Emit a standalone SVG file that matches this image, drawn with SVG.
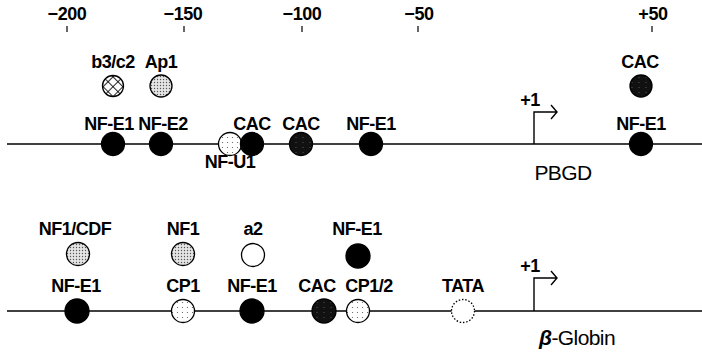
<svg xmlns="http://www.w3.org/2000/svg" width="702" height="352" viewBox="0 0 702 352">
<defs>
<pattern id="dense" width="3" height="3" patternUnits="userSpaceOnUse"><rect width="3" height="3" fill="#e4e4e4"/><circle cx="1.5" cy="1.5" r="0.7" fill="#555"/></pattern>
<pattern id="sparse" width="5" height="5" patternUnits="userSpaceOnUse"><rect width="5" height="5" fill="#fff"/><circle cx="2.5" cy="2.5" r="0.6" fill="#555"/></pattern>
<pattern id="hatch" width="7" height="7" patternUnits="userSpaceOnUse" patternTransform="translate(113 86) rotate(45)"><rect width="7" height="7" fill="#fff"/><line x1="0" y1="0" x2="7" y2="0" stroke="#000" stroke-width="1.7"/><line x1="0" y1="0" x2="0" y2="7" stroke="#000" stroke-width="1.7"/></pattern>
<pattern id="dark" width="7" height="5" patternUnits="userSpaceOnUse"><rect width="7" height="5" fill="#111"/><line x1="1" y1="2.5" x2="3" y2="2.5" stroke="#555" stroke-width="0.5"/></pattern>
</defs>
<style>
text{font-family:"Liberation Sans",Arial,sans-serif;font-weight:bold;font-size:18px;fill:#000;text-anchor:middle;letter-spacing:-0.5px}
.ax{font-size:18px;letter-spacing:-0.4px}
.gene{font-weight:normal;font-size:21px;letter-spacing:-0.6px}
.c{stroke:#000;stroke-width:1.3}
.black{fill:#000}
.dark{fill:url(#dark)}
.dense{fill:url(#dense)}
.sparse{fill:url(#sparse)}
.hatch{fill:url(#hatch)}
.open{fill:#fff}
.tata{fill:#fff;stroke-dasharray:1.5 1.8}
.ln{stroke:#000;stroke-width:1.4;fill:none}
.tk{stroke:#000;stroke-width:1.2}
</style>
<rect width="702" height="352" fill="#fff"/>
<g id="axis">
<text class="ax" x="67" y="20">−200</text>
<text class="ax" x="183" y="20">−150</text>
<text class="ax" x="302" y="20">−100</text>
<text class="ax" x="419" y="20">−50</text>
<text class="ax" x="653" y="20">+50</text>
<line class="tk" x1="67" y1="26" x2="67" y2="32"/>
<line class="tk" x1="184" y1="26" x2="184" y2="32"/>
<line class="tk" x1="302" y1="26" x2="302" y2="32"/>
<line class="tk" x1="418" y1="26" x2="418" y2="32"/>
<line class="tk" x1="652" y1="26" x2="652" y2="32"/>
</g>
<g id="connectors">
<line class="ln" x1="7" y1="144" x2="702" y2="144"/>
<path class="ln" d="M534 144V112H557M551 105L557 112L551 119"/>
<line class="ln" x1="7" y1="311" x2="702" y2="311"/>
<path class="ln" d="M534 311V278H557M551 271L557 278L551 285"/>
</g>
<g id="pbgd-labels">
<text x="530" y="106">+1</text>
<text class="gene" x="563" y="180">PBGD</text>
</g>
<g id="b3c2"><text x="113" y="68">b3/c2</text><circle class="c hatch" cx="113" cy="86" r="10.5"/></g>
<g id="ap1"><text x="161" y="68">Ap1</text><circle class="c dense" cx="161" cy="86" r="11"/></g>
<g id="cac-top"><text x="640" y="68">CAC</text><circle class="c dark" cx="641" cy="86" r="11"/></g>
<g id="nfe1-a"><text x="109" y="130">NF-E1</text><circle class="c black" cx="113" cy="144" r="11.5"/></g>
<g id="nfe2"><text x="163" y="130">NF-E2</text><circle class="c black" cx="161" cy="144" r="11.5"/></g>
<g id="nfu1"><text x="230" y="168">NF-U1</text><circle class="c sparse" cx="230" cy="144" r="11.5"/></g>
<g id="cac-a"><text x="252" y="130">CAC</text><circle class="c black" cx="252" cy="144" r="11.5"/></g>
<g id="cac-b"><text x="301" y="130">CAC</text><circle class="c dark" cx="301" cy="144" r="11.5"/></g>
<g id="nfe1-b"><text x="371" y="130">NF-E1</text><circle class="c black" cx="371" cy="144" r="11.5"/></g>
<g id="nfe1-c"><text x="641" y="130">NF-E1</text><circle class="c black" cx="641" cy="144" r="11.5"/></g>
<g id="globin-labels">
<text x="530" y="272">+1</text>
<text class="gene" x="577" y="345"><tspan font-weight="bold" font-style="italic">β</tspan>-Globin</text>
</g>
<g id="nf1cdf"><text x="75" y="235">NF1/CDF</text><circle class="c dense" cx="78" cy="254" r="11.5"/></g>
<g id="nf1"><text x="183" y="235">NF1</text><circle class="c dense" cx="183" cy="254" r="11.5"/></g>
<g id="a2"><text x="253" y="235">a2</text><circle class="c open" cx="253" cy="255" r="11.5"/></g>
<g id="nfe1-top"><text x="357" y="235">NF-E1</text><circle class="c black" cx="358" cy="256" r="12"/></g>
<g id="nfe1-d"><text x="76" y="292">NF-E1</text><circle class="c black" cx="77" cy="311" r="12"/></g>
<g id="cp1"><text x="183" y="292">CP1</text><circle class="c sparse" cx="183" cy="311" r="11.5"/></g>
<g id="nfe1-e"><text x="252" y="292">NF-E1</text><circle class="c black" cx="252" cy="311" r="12"/></g>
<g id="cac-c"><text x="317" y="292">CAC</text><circle class="c dark" cx="324" cy="311" r="12"/></g>
<g id="cp12"><text x="369" y="292">CP1/2</text><circle class="c sparse" cx="358" cy="311" r="11.5"/></g>
<g id="tata"><text x="463" y="292">TATA</text><circle class="c tata" cx="463" cy="311" r="11.5"/></g>
</svg>
